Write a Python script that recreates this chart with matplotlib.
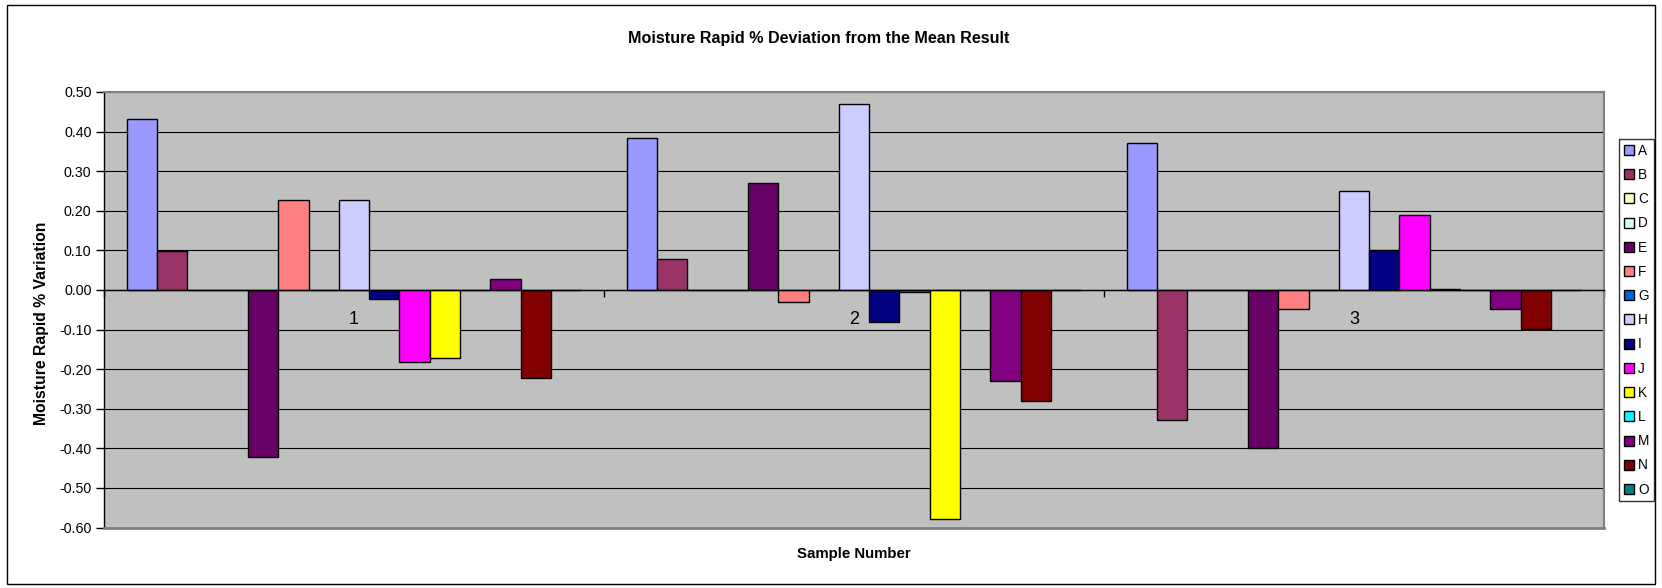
import matplotlib
matplotlib.use("Agg")
import matplotlib.pyplot as plt
from matplotlib.patches import Rectangle, Patch
from matplotlib.ticker import MultipleLocator, FormatStrFormatter, FixedLocator
import numpy as np

plt.rcParams['font.family'] = ['Liberation Sans', 'DejaVu Sans']

categories = ['1', '2', '3']
series_names = ['A', 'B', 'C', 'D', 'E', 'F', 'G', 'H', 'I', 'J', 'K', 'L', 'M', 'N', 'O']
A = [0.432, 0.385, 0.372]
B = [0.098, 0.079, -0.328]
C = [0.0, 0.0, 0.0]
D = [0.0, 0.0, 0.0]
E = [-0.422, 0.269, -0.399]
F = [0.227, -0.030, -0.049]
G = [0.0, 0.0, 0.0]
H = [0.227, 0.470, 0.251]
I = [-0.023, -0.081, 0.101]
J = [-0.183, -0.005, 0.190]
K = [-0.172, -0.579, 0.002]
L = [0.0, 0.0, 0.0]
M = [0.028, -0.231, -0.049]
N = [-0.222, -0.280, -0.098]
O = [0.0, 0.0, 0.0]
series_values = [A, B, C, D, E, F, G, H, I, J, K, L, M, N, O]
colors = ['#9999FF', '#993366', '#FFFFCC', '#CCFFFF', '#660066', '#FF8080', '#0066CC',
          '#CCCCFF', '#000080', '#FF00FF', '#FFFF00', '#00FFFF', '#800080', '#800000', '#008080']

W, Hh = 1662, 588
fig = plt.figure(figsize=(W / 100, Hh / 100), dpi=100)
fig.patch.set_facecolor('white')

# chart outer border
fig.add_artist(Rectangle((7 / W, 4 / Hh), (1655 - 7) / W, (583 - 4) / Hh,
                         transform=fig.transFigure, fill=False, edgecolor='black', linewidth=1.0))

left, right, top, bottom = 104, 1604, 92, 527.5
ax = fig.add_axes([left / W, 1 - bottom / Hh, (right - left) / W, (bottom - top) / Hh])
ax.set_facecolor('#C0C0C0')

n = len(series_names)
bw = 1.0 / (n + 1.5)
x = np.arange(len(categories))
for i, (name, vals, col) in enumerate(zip(series_names, series_values, colors)):
    ax.bar(x - (n - 1) / 2 * bw + i * bw, vals, width=bw, color=col, edgecolor='black',
           linewidth=1.0, label=name, zorder=3)

ax.set_xlim(-0.5, len(categories) - 0.5)
ax.set_ylim(-0.6, 0.5)
ax.yaxis.set_major_locator(MultipleLocator(0.1))
ax.yaxis.set_major_formatter(FormatStrFormatter('%.2f'))
ax.grid(axis='y', color='black', linewidth=0.8, zorder=1)
ax.set_axisbelow(True)

for s in ['top', 'right']:
    ax.spines[s].set_color('#808080')
    ax.spines[s].set_linewidth(1.5)
ax.spines['left'].set_color('black')
ax.spines['left'].set_linewidth(1.0)
ax.spines['bottom'].set_position(('data', 0))
ax.spines['bottom'].set_color('black')
ax.spines['bottom'].set_linewidth(1.0)
ax.spines['bottom'].set_zorder(4)
# bottom border of plot area
ax.plot([0, 1], [0, 0], transform=ax.transAxes, color='#808080', linewidth=2, clip_on=False, zorder=5)

ax.set_xticks(x)
ax.set_xticklabels(categories, fontsize=13)
ax.xaxis.set_minor_locator(FixedLocator(np.arange(-0.5, len(categories), 1.0)))
ax.tick_params(axis='x', which='major', length=0, pad=15)
ax.tick_params(axis='x', which='minor', length=5, width=1, direction='out', color='black')
ax.tick_params(axis='y', which='major', length=6, width=1, direction='out', labelsize=10.3, pad=3)

fig.text(819 / W, 1 - 39 / Hh, 'Moisture Rapid % Deviation from the Mean Result', fontsize=11.6,
         fontweight='bold', ha='center', va='center')
fig.text(41.5 / W, 1 - 323 / Hh, 'Moisture Rapid % Variation', rotation=90, fontsize=11.3,
         fontweight='bold', ha='center', va='center')
fig.text(854 / W, 1 - 554 / Hh, 'Sample Number', fontsize=10.8, fontweight='bold',
         ha='center', va='center')

handles = [Patch(facecolor=c, edgecolor='black', linewidth=1.0) for c in colors]
leg = fig.legend(handles, series_names, loc='upper left',
                 bbox_to_anchor=(1619 / W, 1 - 139 / Hh), fontsize=9.8, frameon=True,
                 fancybox=False, borderpad=0.35, handlelength=0.75, handleheight=0.75,
                 handletextpad=0.3, labelspacing=0.75, borderaxespad=0)
leg.get_frame().set_edgecolor('black')
leg.get_frame().set_linewidth(1.0)

fig.savefig('out.png', dpi=100)
